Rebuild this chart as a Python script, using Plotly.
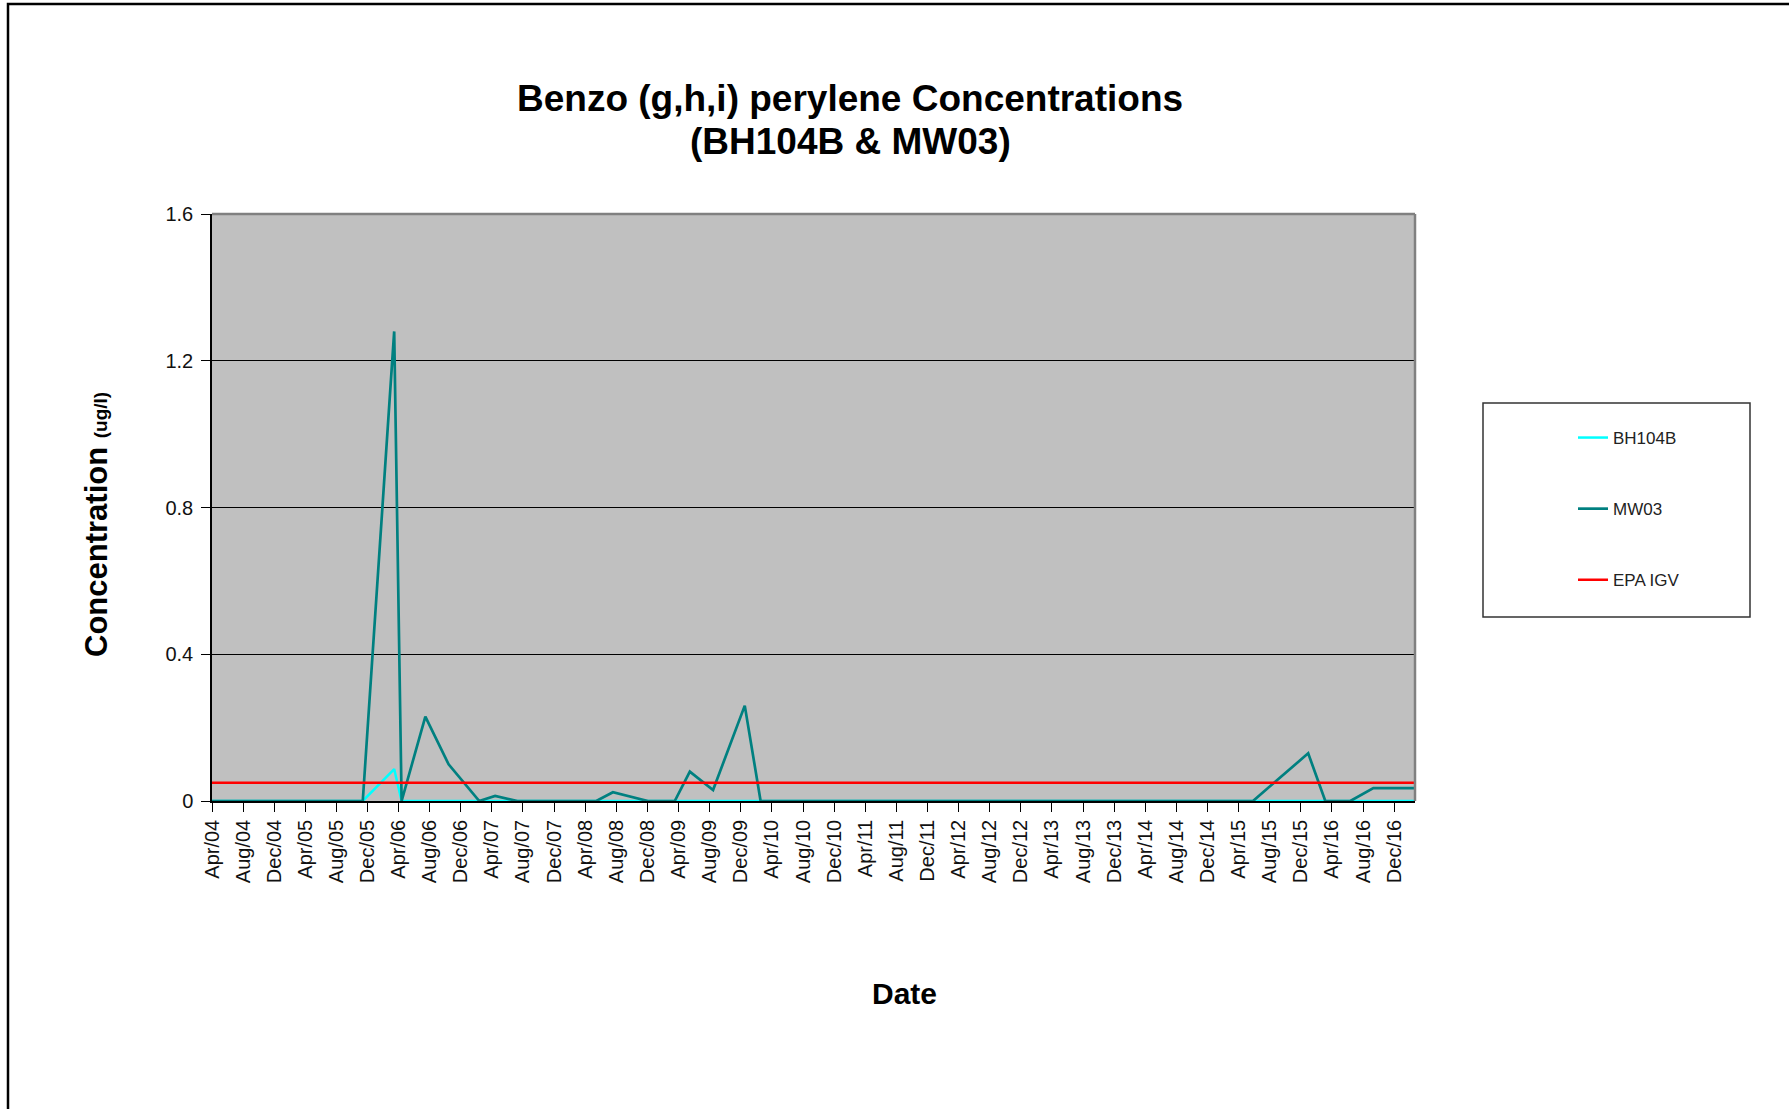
import plotly.graph_objects as go

# Sampling dates and measured concentrations (ug/l)
sample_dates = [
    "2004-04-01", "2004-08-10", "2004-12-08", "2005-04-12", "2005-08-09",
    "2005-11-12", "2006-03-15", "2006-04-13", "2006-07-15", "2006-10-14",
    "2007-02-11", "2007-04-14", "2007-07-10", "2007-11-20", "2008-02-19",
    "2008-05-14", "2008-07-18", "2008-12-02", "2009-03-17", "2009-05-15",
    "2009-08-14", "2009-12-16", "2010-02-16", "2010-08-12", "2011-02-15",
    "2011-08-10", "2012-02-14", "2012-08-15", "2013-02-12", "2013-08-13",
    "2014-02-11", "2014-08-12", "2015-02-10", "2015-05-28", "2015-12-30",
    "2016-03-06", "2016-06-12", "2016-09-10", "2017-02-20",
]
bh104b = [
    0, 0, 0, 0, 0,
    0, 0.087, 0, 0, 0,
    0, 0, 0, 0, 0,
    0, 0, 0, 0, 0,
    0, 0, 0, 0, 0,
    0, 0, 0, 0, 0,
    0, 0, 0, 0, 0,
    0, 0, 0, 0,
]
mw03 = [
    0, 0, 0, 0, 0,
    0, 1.28, 0, 0.23, 0.10,
    0, 0.014, 0, 0, 0,
    0, 0.024, 0, 0, 0.08,
    0.03, 0.26, 0, 0, 0,
    0, 0, 0, 0, 0,
    0, 0, 0, 0, 0.13,
    0, 0, 0.035, 0.035,
]
epa_igv = 0.05

tick_dates = []
tick_labels = []
for yr in range(2004, 2017):
    for mon, name in ((4, "Apr"), (8, "Aug"), (12, "Dec")):
        tick_dates.append(f"{yr}-{mon:02d}-01")
        tick_labels.append(f"{name}/{yr % 100:02d}")

y_ticks = [0, 0.4, 0.8, 1.2, 1.6]

FONT = "Arial, Liberation Sans, Helvetica, sans-serif"

fig = go.Figure()
fig.add_trace(go.Scatter(
    x=sample_dates, y=bh104b, name="BH104B", mode="lines",
    line=dict(color="#00FFFF", width=2.5), legendgroup="a",
))
fig.add_trace(go.Scatter(
    x=sample_dates, y=mw03, name="MW03", mode="lines",
    line=dict(color="#008080", width=2.7), legendgroup="b",
))
fig.add_trace(go.Scatter(
    x=[sample_dates[0], sample_dates[-1]], y=[epa_igv, epa_igv],
    name="EPA IGV", mode="lines",
    line=dict(color="#FF0000", width=2.5), legendgroup="c",
))

W, H = 1789, 1109
L, R, T, B = 212, 1415, 214, 801


def px_x(p):
    return (p - L) / (R - L)


def px_y(p):
    return (B - p) / (B - T)


fig.update_layout(
    width=W, height=H,
    margin=dict(l=L, r=W - R, t=T, b=H - B, pad=0),
    paper_bgcolor="white",
    plot_bgcolor="#C0C0C0",
    font=dict(family=FONT, color="#111111"),
    showlegend=True,
    legend=dict(
        x=px_x(1573), y=px_y(420), xanchor="left", yanchor="top",
        bgcolor="rgba(0,0,0,0)", borderwidth=0,
        font=dict(family=FONT, size=17, color="#222222"),
        traceorder="grouped", tracegroupgap=46,
    ),
)

fig.update_xaxes(
    type="date",
    range=[sample_dates[0], sample_dates[-1]],
    tickmode="array", tickvals=tick_dates, ticktext=tick_labels,
    tickangle=-90, tickfont=dict(family=FONT, size=20, color="#111111"),
    ticks="outside", ticklen=9, tickcolor="black", tickwidth=1,
    showline=True, linecolor="black", linewidth=1.5,
    showgrid=False, zeroline=False,
)
fig.update_yaxes(
    range=[0, 1.6], tickmode="array", tickvals=y_ticks,
    ticktext=[f"{v:g}" for v in y_ticks],
    tickfont=dict(family=FONT, size=20, color="#111111"),
    ticks="outside", ticklen=9, tickcolor="black", tickwidth=1,
    ticklabelstandoff=4,
    showline=True, linecolor="black", linewidth=1.5,
    showgrid=True, gridcolor="black", gridwidth=1,
    zeroline=False,
)

shapes = [
    # plot area frame on the top and right
    dict(type="line", xref="paper", yref="paper", x0=0, x1=1, y0=1, y1=1,
         line=dict(color="#808080", width=2.5)),
    dict(type="line", xref="paper", yref="paper", x0=1, x1=1, y0=0, y1=1,
         line=dict(color="#808080", width=2.5)),
    # legend box
    dict(type="rect", xref="paper", yref="paper",
         x0=px_x(1483), x1=px_x(1750), y0=px_y(617), y1=px_y(403),
         line=dict(color="#333333", width=1.5), fillcolor="rgba(0,0,0,0)"),
    # chart area border
    dict(type="rect", xref="paper", yref="paper",
         x0=px_x(8), x1=px_x(1830), y0=px_y(1150), y1=px_y(4),
         line=dict(color="black", width=2.5), fillcolor="rgba(0,0,0,0)"),
]
fig.update_layout(shapes=shapes)

annotations = [
    dict(text="<b>Benzo (g,h,i) perylene Concentrations</b>",
         xref="paper", yref="paper", x=px_x(850), y=px_y(98),
         xanchor="center", yanchor="middle", showarrow=False,
         font=dict(family=FONT, size=37, color="black")),
    dict(text="<b>(BH104B & MW03)</b>",
         xref="paper", yref="paper", x=px_x(850), y=px_y(141),
         xanchor="center", yanchor="middle", showarrow=False,
         font=dict(family=FONT, size=37, color="black")),
    dict(text="<b>Concentration</b> <b><span style='font-size:19px'>(ug/l)</span></b>",
         xref="paper", yref="paper", x=px_x(96), y=px_y(525),
         xanchor="center", yanchor="middle", textangle=-90, showarrow=False,
         font=dict(family=FONT, size=31, color="black")),
    dict(text="<b>Date</b>",
         xref="paper", yref="paper", x=px_x(904), y=px_y(993),
         xanchor="center", yanchor="middle", showarrow=False,
         font=dict(family=FONT, size=30, color="black")),
]
fig.update_layout(annotations=annotations)

fig.write_html("out.html")
